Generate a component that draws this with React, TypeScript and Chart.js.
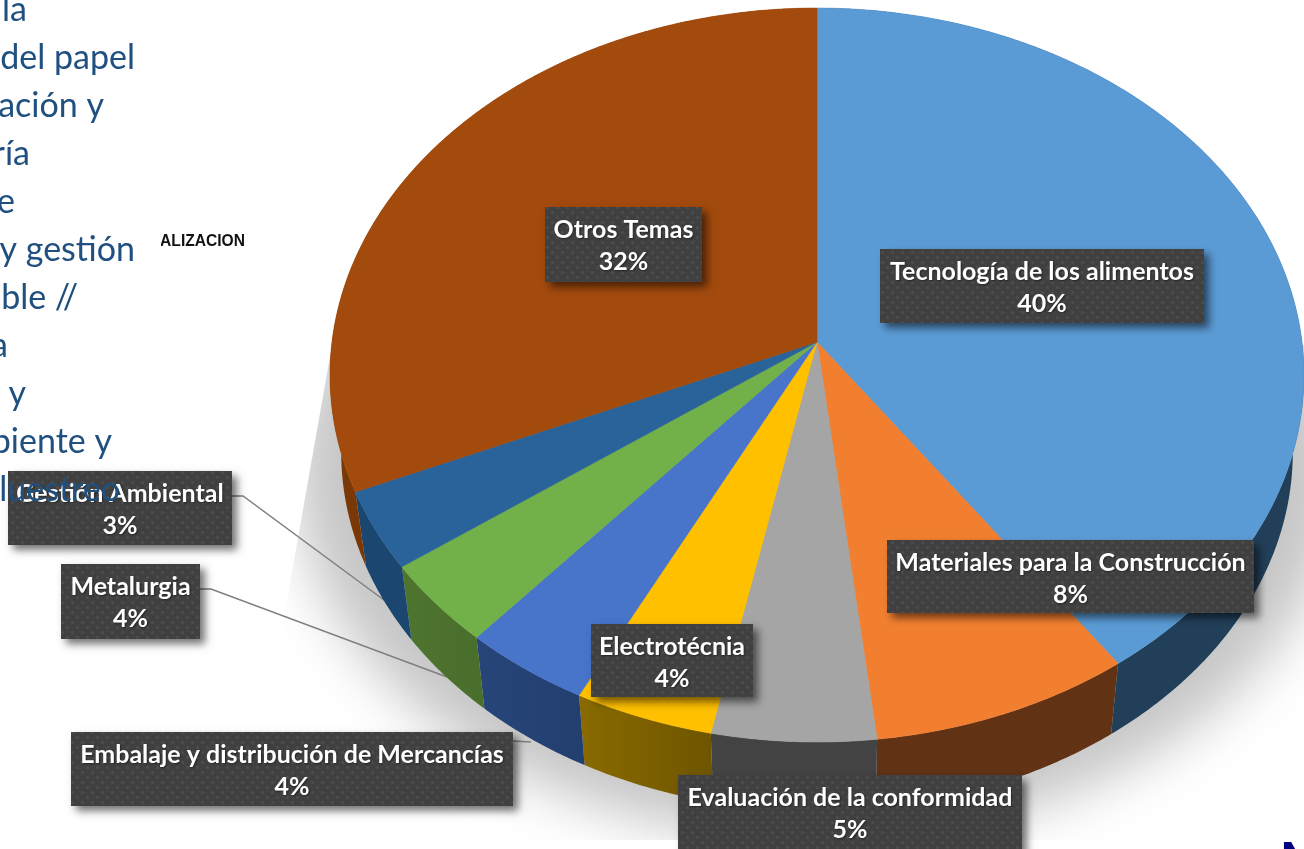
import React, { useEffect, useRef } from "react";
import { Chart, registerables } from "chart.js";

Chart.register(...registerables);

// ---- data ----
const categories = [
  "Tecnología de los alimentos",
  "Materiales para la Construcción",
  "Evaluación de la conformidad",
  "Electrotécnia",
  "Embalaje y distribución de Mercancías",
  "Metalurgia",
  "Gestión Ambiental",
  "Otros Temas",
];
const seriesValues = [40.25, 7.95, 5.0, 4.25, 3.9, 3.7, 3.45, 31.5];
const topColors = ["#5B9BD5", "#F27F30", "#A5A5A5", "#FFC000", "#4874C9", "#72B14A", "#2A6399", "#A34A0D"];
const sideColors = ["#223F59", "#613214", "#434343", "#8A6A00", "#284579", "#4E752F", "#1B4670", "#7A3806"];
const sideColorsEnd = ["#223F59", "#613214", "#434343", "#6E5500", "#233F70", "#4A6E2C", "#1B4670", "#7A3806"];
const backgroundLines = ["la", "del papel", "ación y", "ría", "e", "y gestión", "ble //", "a", "y", "biente y"];
const backgroundOverlayLine = "luestreo";

// ---- layout ----
const W = 1304;
const H = 849;
const lineRightEnds = [27, 135, 104, 30, 15, 135, 78, 8, 26, 112];
const labelBoxes = [
  [880, 249, 1204, 323],
  [887, 540, 1254, 613],
  [678, 775, 1022, 852],
  [591, 624, 753, 697],
  [71, 732, 513, 806],
  [61, 564, 200, 639],
  [8, 471, 232, 545],
  [545, 207, 702, 282],
];
const leaders = [
  [[232, 496], [243, 496], [388, 603]],
  [[200, 589], [211, 589], [447, 677]],
  [[513, 741], [531, 742]],
];

const APEX_X = 817;
const APEX_Y = 342;
const RX = 485;
const RY = 364;
const PERSP = -0.09;
const WALL_SCALE = 0.977;
const WALL_DROP = 78;

// Unit-circle point (from the arc element's angle) into the tilted top face.
const topPoint = (a: number) => {
  const u = Math.cos(a);
  const v = Math.sin(a);
  const d = 1 + PERSP * v;
  return [APEX_X + (RX * u) / d, APEX_Y + (RY * v) / d];
};
const wallPoint = (a: number) => {
  const [x, y] = topPoint(a);
  return [APEX_X + (x - APEX_X) * WALL_SCALE, APEX_Y + (y - APEX_Y) * WALL_SCALE + WALL_DROP];
};
const anglesBetween = (s: number, e: number) => {
  const n = Math.max(2, Math.ceil((e - s) / 0.008));
  const out: number[] = [];
  for (let i = 0; i <= n; i++) out.push(s + ((e - s) * i) / n);
  return out;
};

const makeDots = (ctx: CanvasRenderingContext2D) => {
  const t = document.createElement("canvas");
  t.width = 10;
  t.height = 10;
  const c = t.getContext("2d")!;
  c.fillStyle = "#404040";
  c.fillRect(0, 0, 10, 10);
  c.fillStyle = "rgba(255,255,255,0.07)";
  for (const [x, y] of [[2.5, 2.5], [7.5, 7.5]]) {
    c.beginPath();
    c.arc(x, y, 1.6, 0, Math.PI * 2);
    c.fill();
  }
  return ctx.createPattern(t, "repeat")!;
};

const drawBackdrop = (ctx: CanvasRenderingContext2D) => {
  ctx.save();
  ctx.fillStyle = "#20507F";
  ctx.font = "400 34px Lato";
  ctx.textAlign = "right";
  ctx.textBaseline = "alphabetic";
  backgroundLines.forEach((t, i) => ctx.fillText(t, lineRightEnds[i], 21 + i * 48));
  ctx.restore();

  ctx.save();
  ctx.beginPath();
  ctx.rect(161, 225, 100, 30);
  ctx.clip();
  ctx.fillStyle = "#111";
  ctx.font = "700 15.6px 'Liberation Sans'";
  ctx.textAlign = "right";
  ctx.fillText("ALIZACION", 245, 245.5);
  ctx.restore();

  ctx.save();
  ctx.fillStyle = "#000080";
  ctx.font = "700 44px 'Liberation Sans'";
  ctx.fillText("N", 1281, 873);
  ctx.restore();
};

const drawShadow = (ctx: CanvasRenderingContext2D) => {
  ctx.save();
  ctx.beginPath();
  ctx.moveTo(332, 345);
  ctx.lineTo(280, 640);
  ctx.lineTo(280, 840);
  ctx.lineTo(W, 840);
  ctx.lineTo(W, 345);
  ctx.closePath();
  ctx.clip();
  ctx.filter = "blur(27px)";
  ctx.fillStyle = "#c6c6c6";
  ctx.beginPath();
  ctx.ellipse(817, 470, 522, 370, 0, 0, Math.PI * 2);
  ctx.fill();
  ctx.restore();
};

const piePlugin = {
  id: "perspectivePie",
  beforeDatasetsDraw(chart: any) {
    const ctx: CanvasRenderingContext2D = chart.ctx;
    const arcs = chart.getDatasetMeta(0).data;
    drawBackdrop(ctx);
    drawShadow(ctx);

    ctx.save();
    ctx.strokeStyle = "#7F7F7F";
    ctx.lineWidth = 1.5;
    leaders.forEach((pts) => {
      ctx.beginPath();
      pts.forEach(([x, y], i) => (i ? ctx.lineTo(x, y) : ctx.moveTo(x, y)));
      ctx.stroke();
    });
    ctx.restore();

    arcs.forEach((arc: any, i: number) => {
      const as = anglesBetween(arc.startAngle, arc.endAngle);
      const top = as.map(topPoint);
      const wall = as.map(wallPoint).reverse();
      const xs = top.map((p) => p[0]);
      const g = ctx.createLinearGradient(Math.min(...xs), 0, Math.max(...xs), 0);
      g.addColorStop(0, sideColors[i]);
      g.addColorStop(1, sideColorsEnd[i]);
      ctx.fillStyle = g;
      ctx.beginPath();
      [...top, ...wall].forEach(([x, y], k) => (k ? ctx.lineTo(x, y) : ctx.moveTo(x, y)));
      ctx.closePath();
      ctx.fill();
    });

    arcs.forEach((arc: any) => {
      const col = arc.options.backgroundColor;
      ctx.fillStyle = col;
      ctx.strokeStyle = col;
      ctx.lineWidth = 0.6;
      ctx.beginPath();
      ctx.moveTo(APEX_X, APEX_Y);
      anglesBetween(arc.startAngle, arc.endAngle).map(topPoint).forEach(([x, y]) => ctx.lineTo(x, y));
      ctx.closePath();
      ctx.fill();
      ctx.stroke();
    });
    return false;
  },
  afterDraw(chart: any) {
    const ctx: CanvasRenderingContext2D = chart.ctx;
    const dots = makeDots(ctx);
    categories.forEach((name, i) => {
      const [x1, y1, x2, y2] = labelBoxes[i];
      ctx.save();
      ctx.shadowColor = "rgba(0,0,0,0.55)";
      ctx.shadowBlur = 8;
      ctx.shadowOffsetX = 5;
      ctx.shadowOffsetY = 5;
      ctx.fillStyle = "#404040";
      ctx.fillRect(x1, y1, x2 - x1, y2 - y1);
      ctx.restore();
      ctx.save();
      ctx.fillStyle = dots;
      ctx.fillRect(x1, y1, x2 - x1, y2 - y1);
      ctx.fillStyle = "#FFFFFF";
      ctx.font = "700 25px Lato";
      ctx.textAlign = "center";
      ctx.textBaseline = "middle";
      ctx.shadowColor = "rgba(0,0,0,0.45)";
      ctx.shadowBlur = 2;
      ctx.shadowOffsetX = 1;
      ctx.shadowOffsetY = 1;
      const cx = (x1 + x2) / 2;
      ctx.fillText(name, cx, y1 + 22.5);
      ctx.fillText(`${Math.round(seriesValues[i])}%`, cx, y1 + 55);
      ctx.restore();
    });
    ctx.save();
    ctx.fillStyle = "#20507F";
    ctx.font = "400 34px Lato";
    ctx.textAlign = "right";
    ctx.fillText(backgroundOverlayLine, 120, 501);
    ctx.restore();
  },
};

export default function App() {
  const ref = useRef<HTMLCanvasElement>(null);
  useEffect(() => {
    document.body.style.margin = "0";
    document.body.style.background = "#fff";
    const chart = new Chart(ref.current!, {
      type: "pie",
      data: {
        labels: categories,
        datasets: [{ data: seriesValues, backgroundColor: topColors, borderWidth: 0 }],
      },
      options: {
        animation: false,
        responsive: false,
        plugins: { legend: { display: false }, tooltip: { enabled: false } },
      },
      plugins: [piePlugin],
    } as any);
    return () => chart.destroy();
  }, []);
  return <canvas ref={ref} width={W} height={H} style={{ display: "block" }} />;
}
